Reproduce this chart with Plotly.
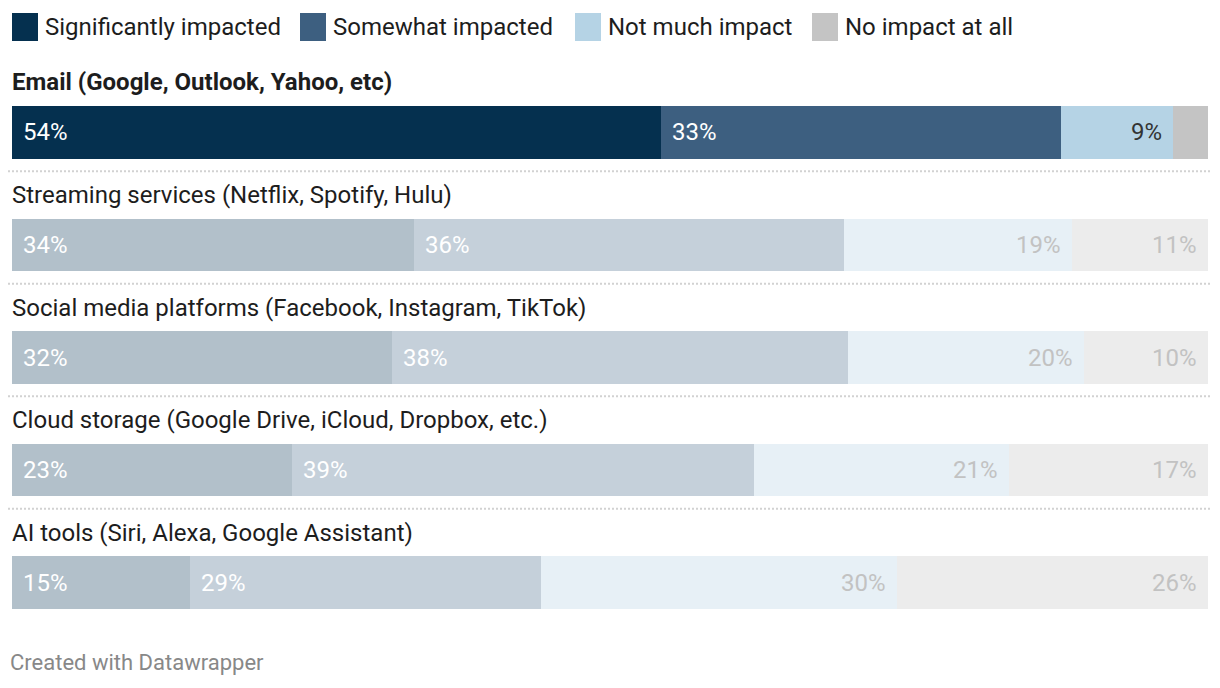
import plotly.graph_objects as go

# The page body adds an 8px margin, so the figure is 8px smaller and all
# pixel positions are given in page coordinates minus that offset.
OFF = 8
W, H = 1220 - OFF, 688 - OFF

categories = [
    "Email (Google, Outlook, Yahoo, etc)",
    "Streaming services (Netflix, Spotify, Hulu)",
    "Social media platforms (Facebook, Instagram, TikTok)",
    "Cloud storage (Google Drive, iCloud, Dropbox, etc.)",
    "AI tools (Siri, Alexa, Google Assistant)",
]
series_names = ["Significantly impacted", "Somewhat impacted", "Not much impact", "No impact at all"]
significantly = [54.3, 33.6, 31.8, 23.4, 14.9]
somewhat = [33.4, 36.0, 38.1, 38.6, 29.3]
not_much = [9.4, 19.0, 19.7, 21.4, 29.8]
no_impact = [2.9, 11.4, 10.4, 16.6, 26.0]
show_label = [[True] * 5, [True] * 5, [True] * 5, [False, True, True, True, True]]

full_colors = ["#05304f", "#3d5f80", "#b5d3e5", "#c4c4c4"]
faded_colors = ["#b2c0ca", "#c5d0da", "#e7f0f6", "#ececec"]
full_text = ["#ffffff", "#ffffff", "#333333", "#333333"]
faded_text = ["#ffffff", "#ffffff", "#c2c2c2", "#c2c2c2"]
anchors = ["start", "start", "end", "end"]

FONT = "Roboto"


def px(x):
    return (x - OFF) / W


def py(y):
    return 1 - (y - OFF) / H


# plot area in page pixels
x0p, x1p = 12, 1208
y_top, y_bot = 76.25, 638.75

fig = go.Figure()
values = [significantly, somewhat, not_much, no_impact]
annotations = []
shapes = []

cum = [0.0] * len(categories)
for s, (name, vals) in enumerate(zip(series_names, values)):
    colors = [full_colors[s] if i == 0 else faded_colors[s] for i in range(len(categories))]
    fig.add_trace(go.Bar(
        y=categories, x=vals, name=name, orientation="h",
        marker=dict(color=colors, line=dict(width=0)),
        width=0.47, hoverinfo="skip", showlegend=False,
    ))
    # value labels, placed from the stacked data
    for i, v in enumerate(vals):
        start = cum[i]
        end = min(round(cum[i] + v, 6), 100.0)
        cum[i] = end
        if not show_label[s][i]:
            continue
        tc = full_text[s] if i == 0 else faded_text[s]
        if anchors[s] == "start":
            ax, xa, xs = start, "left", 9
        else:
            ax, xa, xs = end, "right", -9
        annotations.append(dict(
            x=ax, y=categories[i], xref="x", yref="y", text=f"{round(v)}%",
            showarrow=False, xanchor=xa, yanchor="middle", xshift=xs,
            font=dict(family=FONT, size=24, color=tc),
        ))

# row labels
for i, c in enumerate(categories):
    annotations.append(dict(
        x=0, y=c, xref="x", yref="y", text=(f"<b>{c}</b>" if i == 0 else c),
        showarrow=False, xanchor="left", yanchor="middle", yshift=50, xshift=-2,
        font=dict(family=FONT, size=24, color="#1d1d1d"),
    ))

# dotted separators
for i in range(len(categories) - 1):
    shapes.append(dict(
        type="line", xref="paper", yref="y", x0=0, x1=1, y0=i + 0.345, y1=i + 0.345,
        line=dict(color="#d2d2d2", width=2, dash="2px,2px"),
    ))

# legend (manual)
legend_x = [12, 300, 575, 812]
for s, name in enumerate(series_names):
    lx = legend_x[s]
    shapes.append(dict(
        type="rect", xref="paper", yref="paper",
        x0=px(lx), x1=px(lx + 26), y0=py(41), y1=py(13),
        fillcolor=full_colors[s], line=dict(width=0), layer="above",
    ))
    annotations.append(dict(
        x=px(lx + 31), y=py(27), xref="paper", yref="paper", text=name,
        showarrow=False, xanchor="left", yanchor="middle",
        font=dict(family=FONT, size=24, color="#1d1d1d"),
    ))

# footer
annotations.append(dict(
    x=px(8), y=py(662), xref="paper", yref="paper", text="Created with Datawrapper",
    showarrow=False, xanchor="left", yanchor="middle",
    font=dict(family=FONT, size=22, color="#888888"),
))

fig.update_layout(
    width=W, height=H, barmode="stack",
    margin=dict(l=0, r=0, t=0, b=0),
    paper_bgcolor="white", plot_bgcolor="white",
    xaxis=dict(range=[0, 100], visible=False, domain=[px(x0p), px(x1p)], fixedrange=True),
    yaxis=dict(type="category", categoryorder="array", categoryarray=categories,
               range=[4.5, -0.5], visible=False, domain=[py(y_bot), py(y_top)], fixedrange=True),
    annotations=annotations, shapes=shapes, hovermode=False,
    font=dict(family=FONT),
)

fig.write_html("out.html", config={"displayModeBar": False})
